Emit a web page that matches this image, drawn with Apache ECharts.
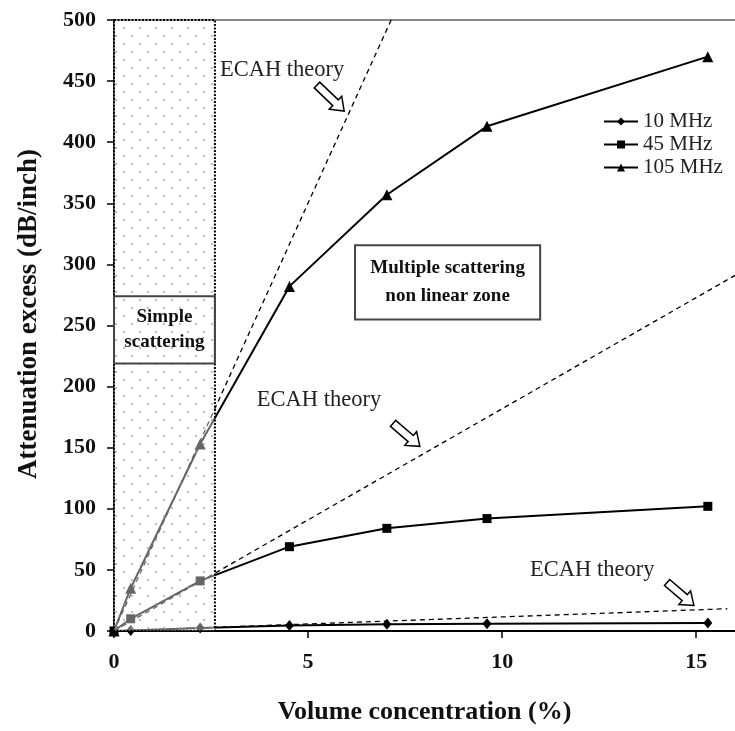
<!DOCTYPE html>
<html>
<head>
<meta charset="utf-8">
<script src="https://cdn.jsdelivr.net/npm/echarts@6/dist/echarts.min.js"></script>
<style>
html,body{margin:0;padding:0;background:#fff;}
#chart{width:735px;height:731px;}
</style>
</head>
<body>
<div id="chart"></div>
<script>
// ---- data ----
const concentration = [0, 0.43, 2.22, 4.52, 7.03, 9.61, 15.3];
const att10MHz = [0, 0.5, 2.5, 4.5, 5.5, 6, 6.5];
const att45MHz = [0, 10, 41, 69, 84, 92, 102];
const att105MHz = [0, 35, 153, 282, 357, 413, 470];
const seriesNames = ['10 MHz', '45 MHz', '105 MHz'];
// ECAH theory straight lines (start / end points)
const ecah10 = [[0, 0], [15.8, 18.2]];
const ecah45 = [[0, 0], [16, 291]];
const ecah105 = [[0, 0], [7.14, 500]];
const xTicks = [0, 5, 10, 15];
const yTicks = [0, 50, 100, 150, 200, 250, 300, 350, 400, 450, 500];
const simpleZone = [0, 2.6]; // x range of the simple scattering zone
const xTitle = 'Volume concentration (%)';
const yTitle = 'Attenuation excess (dB/inch)';

const FONT = '"Liberation Serif", "DejaVu Serif", serif';

function zip(xs, ys) { return xs.map((x, i) => [x, ys[i]]); }

// dotted pattern for simple scattering zone
const pc = document.createElement('canvas');
pc.width = 16; pc.height = 16;
const pctx = pc.getContext('2d');
pctx.fillStyle = 'rgba(255,255,255,0.4)';
pctx.fillRect(0, 0, 16, 16);
pctx.fillStyle = '#a0a0a0';
pctx.beginPath(); pctx.arc(4, 4, 0.9, 0, Math.PI * 2); pctx.fill();
pctx.beginPath(); pctx.arc(12, 12, 0.9, 0, Math.PI * 2); pctx.fill();

const chart = echarts.init(document.getElementById('chart'), null, {renderer: 'canvas'});

const lineSeries = (name, data, symbol, size) => ({
  name, type: 'line', data, symbol, symbolSize: size,
  showSymbol: true,
  lineStyle: {color: '#000', width: 2},
  itemStyle: {color: '#000'},
  z: 3,
  animation: false
});
const dashSeries = (data) => ({
  type: 'line', data, symbol: 'none',
  lineStyle: {color: '#000', width: 1.3, type: [5, 4]},
  z: 2, silent: true, animation: false
});

chart.setOption({
  animation: false,
  backgroundColor: '#fff',
  grid: {left: 114, right: 0, top: 20, bottom: 100, containLabel: false},
  legend: {
    data: seriesNames.map(n => ({name: n})),
    orient: 'vertical', left: 603, top: 111, padding: 0,
    itemWidth: 34, itemHeight: 10, itemGap: 2,
    textStyle: {fontFamily: FONT, fontSize: 21, color: '#222'},
    selectedMode: false
  },
  xAxis: [{
    type: 'value', min: 0, max: 16, position: 'bottom',
    name: xTitle, nameLocation: 'middle', nameGap: 68,
    nameTextStyle: {fontFamily: FONT, fontSize: 26, fontWeight: 'bold', color: '#111'},
    axisLine: {lineStyle: {color: '#000', width: 2}},
    axisTick: {show: true, length: 7, customValues: xTicks, lineStyle: {color: '#000', width: 1.5}},
    axisLabel: {customValues: xTicks, margin: 20, fontFamily: FONT, fontSize: 22, fontWeight: 'bold', color: '#111'},
    splitLine: {show: false}
  }, {
    type: 'value', min: 0, max: 16, position: 'top',
    axisLine: {show: true, lineStyle: {color: '#888', width: 2}},
    axisTick: {show: false}, axisLabel: {show: false}, splitLine: {show: false}
  }],
  yAxis: {
    type: 'value', min: 0, max: 500, interval: 50,
    axisLine: {show: true, lineStyle: {color: '#000', width: 1.5}},
    axisTick: {show: true, length: 7, lineStyle: {color: '#000', width: 1.5}},
    axisLabel: {margin: 18, fontFamily: FONT, fontSize: 22, fontWeight: 'bold', color: '#111',
      formatter: v => (yTicks.indexOf(v) >= 0 ? String(v) : '')},
    splitLine: {show: false}
  },
  series: [
    dashSeries(ecah10),
    dashSeries(ecah45),
    dashSeries(ecah105),
    lineSeries(seriesNames[0], zip(concentration, att10MHz), 'diamond', [9, 11]),
    lineSeries(seriesNames[1], zip(concentration, att45MHz), 'rect', 9),
    lineSeries(seriesNames[2], zip(concentration, att105MHz), 'triangle', 11),
    {
      type: 'line', data: [], z: 10, silent: true,
      markArea: {
        z: 10, silent: true,
        itemStyle: {
          color: {image: pc, repeat: 'repeat'},
          borderColor: '#000', borderWidth: 2, borderType: [2, 1.5]
        },
        data: [[{coord: [simpleZone[0], 500]}, {coord: [simpleZone[1], 0]}]]
      }
    }
  ]
});

// ---- annotations placed in data coordinates ----
const ecahLabels = [[2.73, 459], [3.68, 189], [10.72, 49.5]];
const arrows = [
  [[5.23, 446.8], [5.93, 425.5]],
  [[7.19, 169.9], [7.88, 151.1]],
  [[14.25, 39.7], [14.94, 20.9]]
];
const boxes = [
  {x: [0, 2.6], y: [219, 274], text: 'Simple\nscattering', lh: 25, size: 19},
  {x: [6.21, 10.98], y: [255, 315.7], text: 'Multiple scattering\nnon linear zone', lh: 28, size: 19}
];

const px = p => chart.convertToPixel({gridIndex: 0}, p);
const elements = [];
// y axis title
elements.push({type: 'text', z: 20, x: 29, y: 314, rotation: Math.PI / 2,
  style: {text: yTitle, x: 0, y: 0, font: 'bold 27px ' + FONT, fill: '#111', align: 'center', verticalAlign: 'middle'}});
ecahLabels.forEach(p => {
  const q = px(p);
  elements.push({type: 'text', z: 20, style: {text: 'ECAH theory', x: q[0], y: q[1], font: '22.5px ' + FONT, fill: '#222', align: 'left', verticalAlign: 'middle'}});
});
arrows.forEach(a => {
  const T = px(a[0]), P = px(a[1]);
  const dx = P[0] - T[0], dy = P[1] - T[1];
  const L = Math.hypot(dx, dy);
  const d = [dx / L, dy / L], n = [-d[1], d[0]];
  const h = 12, sw = 4, hw = 9;
  const B = [T[0] + d[0] * (L - h), T[1] + d[1] * (L - h)];
  const pts = [
    [T[0] + n[0] * sw, T[1] + n[1] * sw],
    [B[0] + n[0] * sw, B[1] + n[1] * sw],
    [B[0] + n[0] * hw, B[1] + n[1] * hw],
    [P[0], P[1]],
    [B[0] - n[0] * hw, B[1] - n[1] * hw],
    [B[0] - n[0] * sw, B[1] - n[1] * sw],
    [T[0] - n[0] * sw, T[1] - n[1] * sw]
  ];
  elements.push({type: 'polygon', z: 20, shape: {points: pts}, style: {fill: '#fff', stroke: '#000', lineWidth: 1.5}});
});
boxes.forEach(b => {
  const p1 = px([b.x[0], b.y[1]]), p2 = px([b.x[1], b.y[0]]);
  elements.push({type: 'rect', z: 20, shape: {x: p1[0], y: p1[1], width: p2[0] - p1[0], height: p2[1] - p1[1]},
    style: {fill: 'none', stroke: '#444', lineWidth: 2}});
  elements.push({type: 'text', z: 21, style: {text: b.text, x: (p1[0] + p2[0]) / 2, y: (p1[1] + p2[1]) / 2,
    font: 'bold ' + b.size + 'px ' + FONT, fill: '#111', align: 'center', verticalAlign: 'middle', lineHeight: b.lh}});
});
chart.setOption({graphic: {elements}});
</script>
</body>
</html>
